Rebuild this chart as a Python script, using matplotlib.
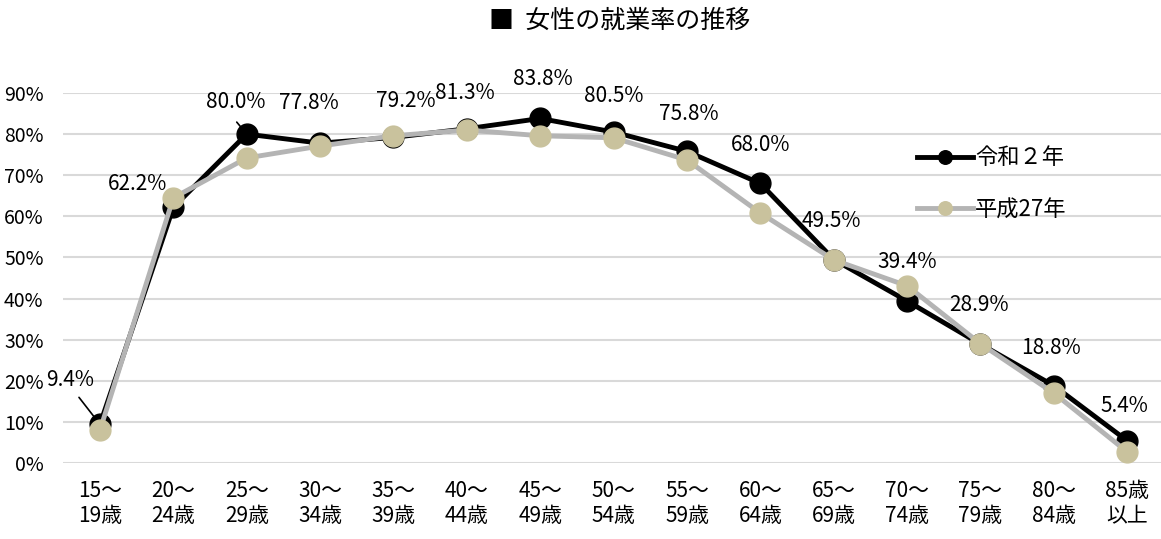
import matplotlib.pyplot as plt
from matplotlib.ticker import FuncFormatter

categories = ["15～\n19歳", "20～\n24歳", "25～\n29歳", "30～\n34歳", "35～\n39歳",
              "40～\n44歳", "45～\n49歳", "50～\n54歳", "55～\n59歳", "60～\n64歳",
              "65～\n69歳", "70～\n74歳", "75～\n79歳", "80～\n84歳", "85歳\n以上"]
reiwa2 = [9.4, 62.2, 80.0, 77.8, 79.2, 81.3, 83.8, 80.5, 75.8, 68.0, 49.5, 39.4, 28.9, 18.8, 5.4]
heisei27 = [8.0, 64.5, 74.2, 77.1, 79.6, 81.0, 79.6, 79.1, 73.7, 60.8, 49.4, 43.1, 29.0, 17.0, 2.7]

# label offsets (pixels) relative to each reiwa2 point
label_offsets = [(-30, 44), (-36, 23), (-11, 32), (-11, 40), (12, 36), (-2, 36), (3, 39), (0, 36),
                 (2, 37), (0, 38), (-2, 38), (0, 39), (-1, 39), (-3, 38), (-3, 35)]

plt.rcParams['font.family'] = ['Noto Sans CJK JP', 'DejaVu Sans']

fig = plt.figure(figsize=(11.61, 5.39), dpi=100)
ax = fig.add_axes([63 / 1161, 1 - 463 / 539, (1161 - 63) / 1161, (463 - 93) / 539])

x = list(range(len(categories)))
ax.plot(x, reiwa2, color='black', lw=3.5, marker='o', ms=15, label='令和２年', zorder=3)
ax.plot(x, heisei27, color='#b4b4b4', lw=3.5, marker='o', ms=15, mfc='#c9c29d', mec='#c9c29d',
        label='平成27年', zorder=4)

for i, v in enumerate(reiwa2):
    dx, dy = label_offsets[i]
    ax.annotate(f"{v:.1f}%", (i, v), xytext=(dx, dy), textcoords='offset pixels',
                ha='center', va='center', fontsize=15, zorder=5)

# leader lines
ax.annotate("", (0, reiwa2[0]), xytext=(-21, 27), textcoords='offset pixels',
            arrowprops=dict(arrowstyle='-', color='black', lw=1.2, shrinkA=0, shrinkB=2))
ax.annotate("", (2, reiwa2[2]), xytext=(-10, 12), textcoords='offset pixels',
            arrowprops=dict(arrowstyle='-', color='black', lw=1.2, shrinkA=0, shrinkB=4))

ax.set_xlim(-0.504, 14.46)
ax.set_ylim(0, 90)
ax.set_yticks(range(0, 91, 10))
ax.yaxis.set_major_formatter(FuncFormatter(lambda v, p: f"{v:.0f}%"))
ax.set_xticks(x)
ax.set_xticklabels(categories, fontsize=15, linespacing=1.2)
ax.tick_params(axis='y', labelsize=14, length=0, pad=14)
ax.tick_params(axis='x', length=0, pad=12)
ax.grid(axis='y', color='#d9d9d9', lw=1.5)
ax.set_axisbelow(True)
for s in ax.spines.values():
    s.set_visible(False)

leg = ax.legend(loc='upper left', bbox_to_anchor=(0.76, 0.91), frameon=False, fontsize=16,
                labelspacing=1.3, handlelength=2.5, handletextpad=0.1, markerscale=0.65)

fig.text(620 / 1161, 1 - 21 / 539, "■  女性の就業率の推移", ha='center', va='center',
         fontsize=18, family=['Noto Sans CJK JP', 'DejaVu Sans'])

fig.savefig('out.png', dpi=100)
